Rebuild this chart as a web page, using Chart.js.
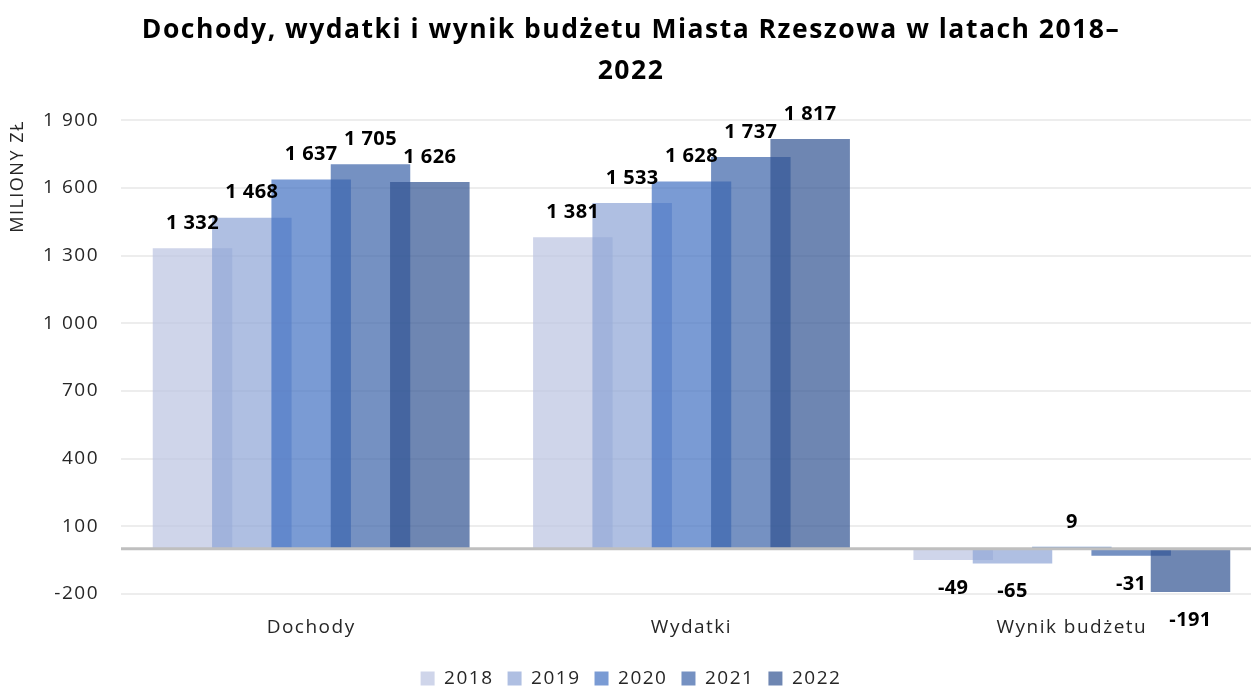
<!DOCTYPE html>
<html lang="pl">
<head>
<meta charset="utf-8">
<title>Dochody, wydatki i wynik budżetu Miasta Rzeszowa</title>
<script src="https://cdn.jsdelivr.net/npm/chart.js@4.4.1/dist/chart.umd.min.js"></script>
<style>
  html, body { margin: 0; padding: 0; background: #fff; overflow: hidden; }
  #wrap { position: absolute; left: 0; top: 0; width: 1262px; height: 686px; }
</style>
</head>
<body>
<div id="wrap"><canvas id="budget-chart"></canvas></div>
<script>
// categories and values (millions PLN)
const categories = ["Dochody", "Wydatki", "Wynik budżetu"];
const years = ["2018", "2019", "2020", "2021", "2022"];
const values2018 = [1332, 1381, -49];
const values2019 = [1468, 1533, -65];
const values2020 = [1637, 1628, 9];
const values2021 = [1705, 1737, -31];
const values2022 = [1626, 1817, -191];
const yTicks = [-200, 100, 400, 700, 1000, 1300, 1600, 1900];

const seriesValues = [values2018, values2019, values2020, values2021, values2022];
const seriesColors = [
  "rgba(186,195,225,0.7)",
  "rgba(141,164,213,0.7)",
  "rgba(65,112,194,0.7)",
  "rgba(59,98,168,0.7)",
  "rgba(48,82,145,0.7)"
];

const FONT = "'Open Sans', 'DejaVu Sans', sans-serif";
const fmt = v => String(v).replace(/\B(?=(\d{3})+(?!\d))/g, " ");

// the original text is a bit wider than Open Sans, add some letter spacing
const spacing = {
  id: "spacing",
  beforeUpdate(chart) { chart.ctx.letterSpacing = "1.5px"; },
  beforeDraw(chart) { chart.ctx.letterSpacing = "1.5px"; }
};

// later years are drawn on top, like in the original
const drawOrder = {
  id: "drawOrder",
  beforeDatasetsDraw(chart) {
    for (let i = 0; i < chart.data.datasets.length; i++) {
      const meta = chart.getDatasetMeta(i);
      if (meta.visible) meta.controller.draw();
    }
    return false;
  }
};

// zero line + value labels
const overlay = {
  id: "overlay",
  afterDraw(chart) {
    const { ctx, chartArea, scales } = chart;
    const y0 = scales.y.getPixelForValue(0);
    ctx.save();
    ctx.strokeStyle = "#bfbfbf";
    ctx.lineWidth = 3;
    ctx.beginPath();
    ctx.moveTo(chartArea.left, y0);
    ctx.lineTo(chartArea.right, y0);
    ctx.stroke();

    ctx.letterSpacing = "0.4px";
    ctx.font = "bold 20px " + FONT;
    ctx.fillStyle = "#000";
    ctx.textAlign = "center";
    ctx.textBaseline = "middle";
    chart.data.datasets.forEach((ds, i) => {
      const meta = chart.getDatasetMeta(i);
      meta.data.forEach((bar, j) => {
        const v = ds.data[j];
        const y = v >= 0 ? bar.y - 25 : bar.y + 28;
        ctx.fillText(fmt(v), bar.x, y);
      });
    });
    ctx.restore();
  }
};

const ctx = document.getElementById("budget-chart").getContext("2d");
new Chart(ctx, {
  type: "bar",
  data: {
    labels: categories,
    datasets: years.map((yr, i) => ({
      label: yr,
      data: seriesValues[i],
      backgroundColor: seriesColors[i],
      borderWidth: 0,
      barPercentage: 1.34,
      categoryPercentage: 0.78
    }))
  },
  options: {
    responsive: true,
    maintainAspectRatio: false,
    animation: false,
    layout: { padding: { top: 0, bottom: -12, left: 0, right: 0 } },
    plugins: {
      title: {
        display: true,
        text: ["Dochody, wydatki i wynik budżetu Miasta Rzeszowa w latach 2018–", "2022"],
        color: "#000",
        font: { family: FONT, size: 26.5, weight: "bold", lineHeight: 1.55 },
        padding: { top: 10, bottom: 28 }
      },
      legend: {
        position: "bottom",
        labels: {
          color: "#262626",
          font: { family: FONT, size: 19 },
          boxWidth: 14,
          boxHeight: 14,
          padding: 14
        }
      },
      tooltip: { enabled: false }
    },
    scales: {
      x: {
        afterFit: scale => { scale.height = 61; },
        grid: { display: false },
        border: { display: false },
        ticks: {
          color: "#262626",
          font: { family: FONT, size: 19 },
          padding: 14
        }
      },
      y: {
        min: -200,
        max: 1900,
        afterFit: scale => { scale.width = 121; },
        afterBuildTicks: scale => { scale.ticks = yTicks.map(v => ({ value: v })); },
        grid: { color: "#ededed", lineWidth: 2, drawTicks: false },
        border: { display: false },
        ticks: {
          color: "#262626",
          font: { family: FONT, size: 19 },
          padding: 22,
          callback: v => fmt(v)
        },
        title: {
          display: true,
          text: "MILIONY ZŁ",
          align: "end",
          color: "#262626",
          font: { family: FONT, size: 18 },
          padding: { top: 7, bottom: 0 }
        }
      }
    }
  },
  plugins: [spacing, drawOrder, overlay]
});
</script>
</body>
</html>
